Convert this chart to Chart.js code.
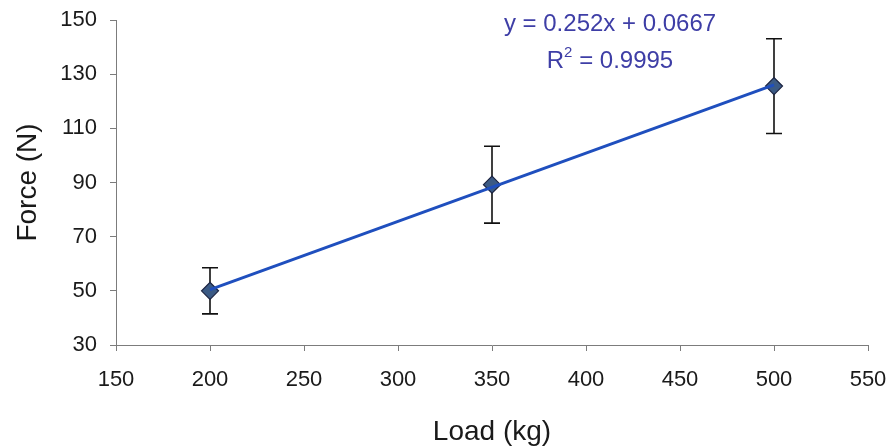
<!DOCTYPE html>
<html>
<head>
<meta charset="utf-8">
<script src="https://cdn.jsdelivr.net/npm/chart.js@4/dist/chart.umd.min.js"></script>
<style>
  html, body { margin: 0; padding: 0; background: #fff; }
  #wrap { width: 894px; height: 447px; }
</style>
</head>
<body>
<div id="wrap"><canvas id="chart" width="894" height="447"></canvas></div>
<script>
// Load / force measurements with standard deviation
const loads = [200, 350, 500];
const forces = [50.0, 89.2, 125.6];
const errors = [8.5, 14.2, 17.5];

// Linear fit reported on the chart
const slope = 0.252;
const intercept = 0.0667;
const rSquared = '0.9995';

const xTicks = { min: 150, max: 550, step: 50 };
const yTicks = { min: 30, max: 150, step: 20 };

const FONT = '"Liberation Sans", Arial, sans-serif';
const AXIS = '#7c7c7c';

// vertical error bars with caps, drawn under the markers
const errorBars = {
    id: 'errorBars',
    beforeDatasetsDraw(chart) {
        const { ctx, scales: { x, y } } = chart;
        ctx.save();
        ctx.strokeStyle = '#111';
        ctx.lineWidth = 1.6;
        loads.forEach((l, i) => {
            const px = x.getPixelForValue(l);
            const top = y.getPixelForValue(forces[i] + errors[i]);
            const bot = y.getPixelForValue(forces[i] - errors[i]);
            ctx.beginPath();
            ctx.moveTo(px, top); ctx.lineTo(px, bot);
            ctx.moveTo(px - 8, top); ctx.lineTo(px + 8, top);
            ctx.moveTo(px - 8, bot); ctx.lineTo(px + 8, bot);
            ctx.stroke();
        });
        ctx.restore();
    }
};

// trendline equation and R² text
const fitLabel = {
    id: 'fitLabel',
    afterDraw(chart) {
        const { ctx, chartArea } = chart;
        const cx = chartArea.left + 494;
        ctx.save();
        ctx.fillStyle = '#3e3ea6';
        ctx.textBaseline = 'middle';
        ctx.textAlign = 'center';
        ctx.font = '24px ' + FONT;
        ctx.fillText('y = ' + slope + 'x + ' + intercept, cx, 24);

        const left = 'R', right = ' = ' + rSquared;
        const wl = ctx.measureText(left).width;
        const wr = ctx.measureText(right).width;
        ctx.font = '15px ' + FONT;
        const ws = ctx.measureText('2').width;
        let sx = cx - (wl + ws + wr) / 2;
        ctx.textAlign = 'left';
        ctx.font = '24px ' + FONT;
        ctx.fillText(left, sx, 61);
        ctx.font = '15px ' + FONT;
        ctx.fillText('2', sx + wl, 53);
        ctx.font = '24px ' + FONT;
        ctx.fillText(right, sx + wl + ws, 61);
        ctx.restore();
    }
};

new Chart(document.getElementById('chart'), {
    type: 'scatter',
    data: {
        datasets: [
            {
                label: 'Force',
                data: loads.map((l, i) => ({ x: l, y: forces[i] })),
                pointStyle: 'rectRot',
                pointRadius: 8.5,
                pointBackgroundColor: '#3b5a84',
                pointBorderColor: '#1b2340',
                pointBorderWidth: 1.2,
                order: 1
            },
            {
                label: 'Linear fit',
                type: 'line',
                data: [loads[0], loads[loads.length - 1]].map(l => ({ x: l, y: slope * l + intercept })),
                borderColor: '#1f4fbe',
                borderWidth: 3,
                pointRadius: 0,
                fill: false,
                order: 0
            }
        ]
    },
    options: {
        responsive: false,
        animation: false,
        layout: { padding: { top: 20, right: 26, left: 0, bottom: 0 } },
        plugins: {
            legend: { display: false },
            tooltip: { enabled: false }
        },
        scales: {
            x: {
                type: 'linear',
                min: xTicks.min,
                max: xTicks.max,
                afterFit: s => {
                    s.height = 102;
                    // labels may overhang the plot edges
                    s.paddingLeft = 0;
                    s.paddingRight = 0;
                },
                ticks: {
                    stepSize: xTicks.step,
                    padding: 16,
                    color: '#1a1a1a',
                    font: { family: FONT, size: 22 }
                },
                grid: { drawOnChartArea: false, tickLength: 6, color: AXIS },
                border: { color: AXIS, width: 1 },
                title: {
                    display: true,
                    text: 'Load (kg)',
                    color: '#1a1a1a',
                    font: { family: FONT, size: 28 },
                    padding: { top: 0, bottom: -2 }
                }
            },
            y: {
                min: yTicks.min,
                max: yTicks.max,
                afterFit: s => {
                    s.width = 116;
                    s.paddingTop = 0;
                    s.paddingBottom = 0;
                },
                ticks: {
                    stepSize: yTicks.step,
                    padding: 13,
                    color: '#1a1a1a',
                    font: { family: FONT, size: 22 }
                },
                grid: { drawOnChartArea: false, tickLength: 6, color: AXIS },
                border: { color: AXIS, width: 1 },
                title: {
                    display: true,
                    text: 'Force (N)',
                    color: '#1a1a1a',
                    font: { family: FONT, size: 28 },
                    padding: { top: 11, bottom: 0 }
                }
            }
        }
    },
    plugins: [errorBars, fitLabel]
});
</script>
</body>
</html>
